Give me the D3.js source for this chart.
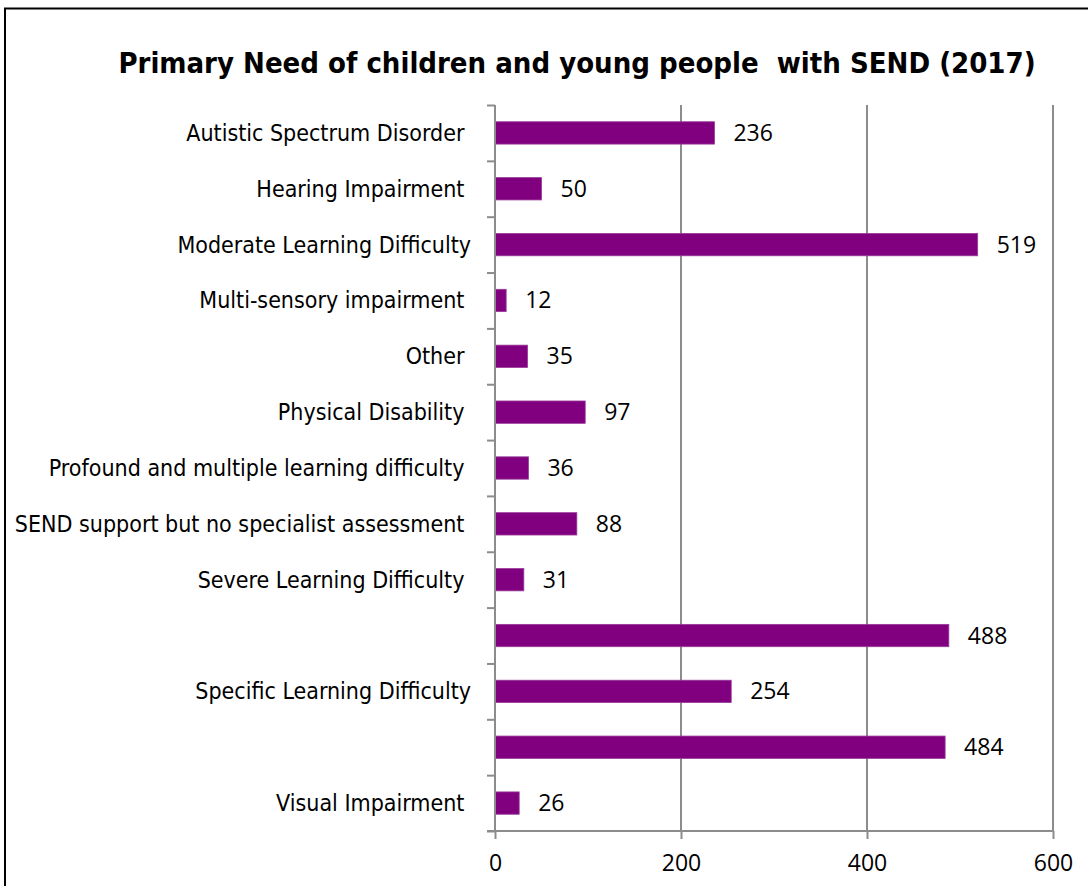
<!DOCTYPE html>
<html><head><meta charset="utf-8">
<script src="https://cdn.jsdelivr.net/npm/d3@7"></script>
<style>body{margin:0;background:#fff}</style>
</head><body>
<svg id="c" width="1088" height="886"></svg>
<script>
const categories = [
  "Autistic Spectrum Disorder ",
  "Hearing Impairment ",
  "Moderate Learning Difficulty",
  "Multi-sensory impairment ",
  "Other ",
  "Physical Disability ",
  "Profound and multiple learning difficulty ",
  "SEND support but no specialist assessment ",
  "Severe Learning Difficulty ",
  "",
  "Specific Learning Difficulty",
  "",
  "Visual Impairment "
];
const values = [236, 50, 519, 12, 35, 97, 36, 88, 31, 488, 254, 484, 26];
const xTicks = [0, 200, 400, 600];
const title = "Primary Need of children and young people  with SEND (2017)";

const svg = d3.select("#c");
svg.append("rect").attr("x", 5).attr("y", 8.5).attr("width", 1200).attr("height", 1000)
  .attr("fill", "#fff").attr("stroke", "#000").attr("stroke-width", 2);

const m = {left: 495, right: 1053, top: 105, bottom: 831};
const x = d3.scaleLinear().domain([0, 600]).range([m.left, m.right]);
const y = d3.scaleBand().domain(d3.range(categories.length)).range([m.top, m.bottom]).paddingInner(0.6).paddingOuter(0.3);

const labFont = "'DejaVu Sans Condensed', 'DejaVu Sans', sans-serif";
const numFont = "'Open Sans', sans-serif";

svg.append("text").attr("x", 577).attr("y", 73).attr("text-anchor", "middle")
  .style("font-family", labFont).style("font-weight", "bold").style("font-size", "29px")
  .style("white-space", "pre").text(title);

// gridlines
svg.append("g").selectAll("line").data(xTicks.filter(d => d > 0)).join("line")
  .attr("x1", d => x(d)).attr("x2", d => x(d)).attr("y1", m.top).attr("y2", m.bottom)
  .attr("stroke", "#8c8c8c").attr("stroke-width", 2);

// bars
svg.append("g").selectAll("rect").data(values).join("rect")
  .attr("x", x(0)).attr("y", (d, i) => y(i)).attr("width", d => x(d) - x(0)).attr("height", y.bandwidth())
  .attr("fill", "#800080").attr("stroke", "#9a3a9a").attr("stroke-width", 0.8);

// value labels
svg.append("g").selectAll("text").data(values).join("text")
  .attr("x", d => x(d) + 19).attr("y", (d, i) => y(i) + y.bandwidth() / 2 + 8)
  .style("font-family", numFont).style("font-size", "23px").attr("fill", "#000").text(d => d);

// y axis
const yAxis = d3.axisLeft(d3.scaleLinear().domain([0, categories.length]).range([m.top, m.bottom]))
  .tickValues(d3.range(categories.length + 1)).tickSize(8).tickFormat("");
const gy = svg.append("g").attr("transform", `translate(${m.left},0)`).call(yAxis);
gy.select(".domain").attr("stroke", "#8c8c8c").attr("stroke-width", 2).attr("d", `M0,${m.top}V${m.bottom}`);
gy.selectAll(".tick line").attr("stroke", "#8c8c8c").attr("stroke-width", 2);

// x axis
const xAxis = d3.axisBottom(x).tickValues(xTicks).tickSize(8).tickPadding(16).tickFormat(d3.format("d"));
const gx = svg.append("g").attr("transform", `translate(0,${m.bottom})`).call(xAxis);
gx.select(".domain").attr("stroke", "#8c8c8c").attr("stroke-width", 2).attr("d", `M${m.left - 8},0H${m.right}`);
gx.selectAll(".tick line").attr("stroke", "#8c8c8c").attr("stroke-width", 2);
gx.selectAll(".tick text").style("font-family", numFont).style("font-size", "23px").attr("fill", "#000");

// category labels
svg.append("g").selectAll("text").data(categories).join("text")
  .attr("x", 471).attr("y", (d, i) => y(i) + y.bandwidth() / 2 + 8).attr("text-anchor", "end")
  .style("white-space", "pre").style("font-family", labFont).style("font-size", "23px").attr("fill", "#000")
  .text(d => d);
</script>
</body></html>
